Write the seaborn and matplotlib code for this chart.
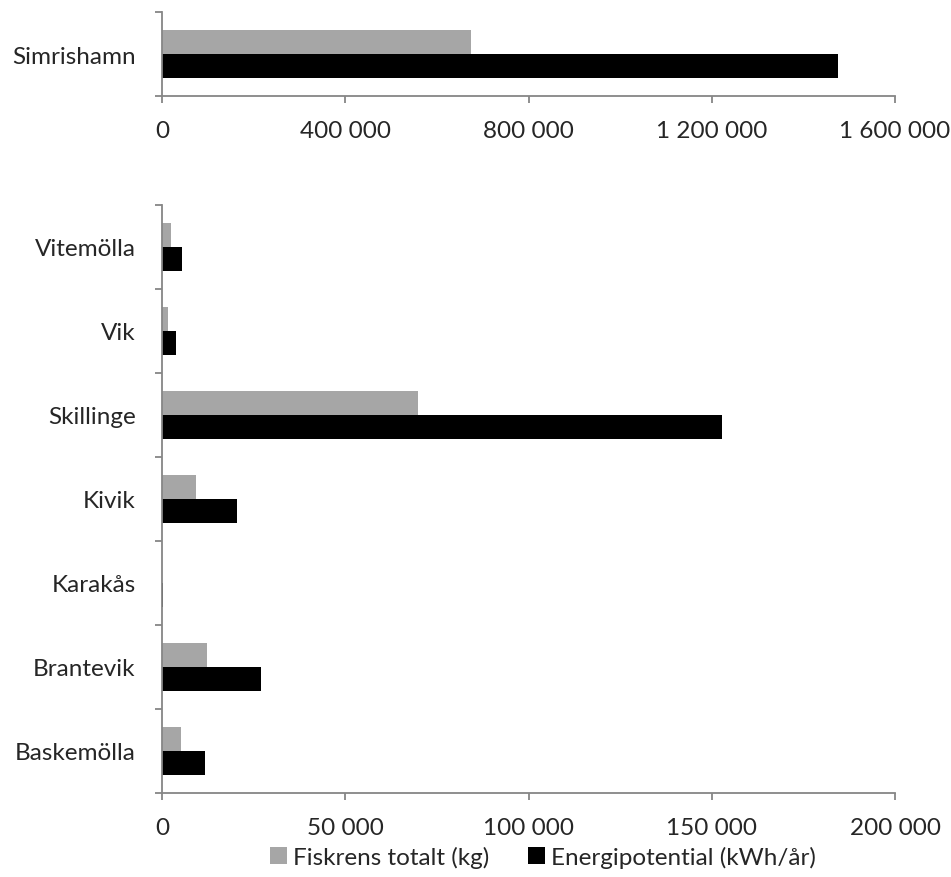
import matplotlib
matplotlib.use("Agg")
import matplotlib.pyplot as plt
import matplotlib.ticker as mticker
import seaborn as sns
import pandas as pd

# data
top_place = ["Simrishamn"]
top_fisk = [674000]
top_energi = [1476000]

places = ["Vitemölla", "Vik", "Skillinge", "Kivik", "Karakås", "Brantevik", "Baskemölla"]
fisk = [2400, 1700, 69900, 9300, 100, 12300, 5300]
energi = [5450, 3800, 152800, 20500, 250, 27100, 11800]

series = ["Fiskrens totalt (kg)", "Energipotential (kWh/år)"]
colors = ["#A6A6A6", "#000000"]

top_df = pd.DataFrame({"plats": top_place * 2,
                       "serie": [series[0]] * 1 + [series[1]] * 1,
                       "varde": top_fisk + top_energi})
bot_df = pd.DataFrame({"plats": places * 2,
                       "serie": [series[0]] * len(places) + [series[1]] * len(places),
                       "varde": fisk + energi})

sns.set_style("white")
plt.rcParams["font.family"] = ["Lato", "DejaVu Sans"]
plt.rcParams["font.size"] = 17.5

fig = plt.figure(figsize=(9.51, 8.78), dpi=100)
ax1 = fig.add_axes([162 / 951, 1 - 97 / 878, 733 / 951, 84 / 878])
ax2 = fig.add_axes([162 / 951, 1 - 794 / 878, 733 / 951, 588 / 878])

sns.barplot(data=top_df, y="plats", x="varde", hue="serie", hue_order=series,
            palette=colors, orient="h", width=0.57, linewidth=0, ax=ax1, legend=False)
sns.barplot(data=bot_df, y="plats", x="varde", hue="serie", hue_order=series,
            palette=colors, orient="h", width=0.57, linewidth=0, ax=ax2)

fmt = mticker.FuncFormatter(lambda v, p: f"{v:,.0f}".replace(",", " "))
spine_col = "#868686"

for ax, xmax, step, n in [(ax1, 1600000, 400000, 1), (ax2, 200000, 50000, len(places))]:
    ax.set_xlim(0, xmax)
    ax.set_ylim(n - 0.5, -0.5)
    ax.xaxis.set_major_locator(mticker.MultipleLocator(step))
    ax.xaxis.set_major_formatter(fmt)
    ax.set_xlabel("")
    ax.set_ylabel("")
    for s in ["top", "right"]:
        ax.spines[s].set_visible(False)
    for s in ["left", "bottom"]:
        ax.spines[s].set_color(spine_col)
        ax.spines[s].set_linewidth(1.3)
    # category boundary ticks like Excel
    ax.set_yticks([i - 0.5 for i in range(n + 1)], minor=True)
    ax.tick_params(axis="y", which="major", length=0, pad=19)
    ax.tick_params(axis="y", which="minor", length=5, width=1.3, color=spine_col, direction="out", left=True)
    ax.tick_params(axis="x", which="major", length=5, width=1.3, color=spine_col, direction="out", bottom=True, pad=12)
    ax.grid(False)

handles, labels = ax2.get_legend_handles_labels()
ax2.get_legend().remove()
fig.legend(handles, labels, loc="center", bbox_to_anchor=(543 / 951, 1 - 858 / 878), ncol=2,
           frameon=False, handlelength=0.7, handleheight=0.7, handletextpad=0.25, columnspacing=1.6)

fig.savefig("out.png", dpi=100)
